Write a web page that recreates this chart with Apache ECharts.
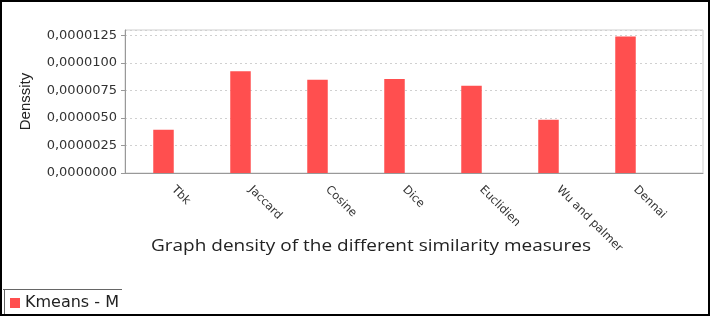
<!DOCTYPE html>
<html>
<head>
<meta charset="utf-8">
<script src="https://cdn.jsdelivr.net/npm/echarts@6/dist/echarts.min.js"></script>
<style>
html,body{margin:0;padding:0;background:#fff;}
#c{width:710px;height:316px;}
</style>
</head>
<body>
<div id="c"></div>
<script>
const categories = ['Tbk', 'Jaccard', 'Cosine', 'Dice', 'Euclidien', 'Wu and palmer', 'Dennai'];
const densityValues = [0.00000394, 0.00000924, 0.00000848, 0.00000855, 0.00000794, 0.00000485, 0.00001240];
const seriesName = 'Kmeans - M';
const yMin = 0;
const yMax = 0.000013;
const yStep = 0.0000025;
const chartTitle = 'Graph density of the different similarity measures';
const yName = 'Denssity';

const chart = echarts.init(document.getElementById('c'), null, {renderer: 'canvas'});
const barColor = '#ff4f4f';
const option = {
  backgroundColor: '#ffffff',
  animation: false,
  legend: {
    data: [seriesName],
    left: 10,
    top: 295,
    padding: 0,
    icon: 'rect',
    itemWidth: 10,
    itemHeight: 10,
    textStyle: {fontFamily: 'DejaVu Sans', fontSize: 16, color: '#222'}
  },
  grid: [
    {left: 125, right: 7, top: 30, bottom: 143, show: true, borderColor: '#cfcfcf', borderWidth: 1, backgroundColor: 'transparent'},
    {left: 125, width: 539, top: 30, bottom: 143}
  ],
  xAxis: [
    {type: 'value', gridIndex: 0, min: 0, max: 1,
     axisLine: {show: true, lineStyle: {color: '#999', width: 1}},
     axisTick: {show: false}, axisLabel: {show: false}, splitLine: {show: false}},
    {type: 'category', gridIndex: 1, data: categories,
     axisLine: {show: false}, axisTick: {show: false},
     axisLabel: {rotate: -45, margin: 5, interval: 0, padding: [0, 0, 0, 14],
                 fontFamily: 'DejaVu Sans', fontSize: 11.5, color: '#333'}}
  ],
  yAxis: [
    {type: 'value', gridIndex: 0, min: yMin, max: yMax, interval: yStep,
     name: yName, nameLocation: 'middle', nameGap: 92, nameRotate: 90,
     nameTextStyle: {fontFamily: 'Liberation Sans', fontSize: 15, color: '#222'},
     axisLine: {show: true, lineStyle: {color: '#999'}},
     axisTick: {show: true, length: 4, lineStyle: {color: '#999'}},
     axisLabel: {showMaxLabel: false, margin: 8, fontFamily: 'DejaVu Sans', fontSize: 13, color: '#333',
                 formatter: v => v.toFixed(7).replace('.', ',')},
     splitLine: {show: true, lineStyle: {color: '#d0d0d0', type: [2, 3], width: 1}}},
    {type: 'value', gridIndex: 1, min: yMin, max: yMax, show: false, splitLine: {show: false}}
  ],
  series: [
    {name: seriesName, type: 'bar', xAxisIndex: 1, yAxisIndex: 1, data: densityValues,
     barWidth: 20.5, itemStyle: {color: barColor}}
  ],
  graphic: [
    {type: 'text', x: 151, y: 239, scaleX: 1.225,
     style: {text: chartTitle, font: '15.5px "Open Sans"', fill: '#222', textVerticalAlign: 'top'}, z: 5},
    {type: 'line', shape: {x1: 3, y1: 289.5, x2: 122, y2: 289.5}, style: {stroke: '#666', lineWidth: 1}, z: 10},
    {type: 'line', shape: {x1: 4.5, y1: 289, x2: 4.5, y2: 316}, style: {stroke: '#666', lineWidth: 1}, z: 10},
    {type: 'rect', shape: {x: 1, y: 1, width: 708, height: 314}, style: {fill: 'none', stroke: '#000', lineWidth: 2}, z: 20}
  ]
};
chart.setOption(option);
</script>
</body>
</html>
